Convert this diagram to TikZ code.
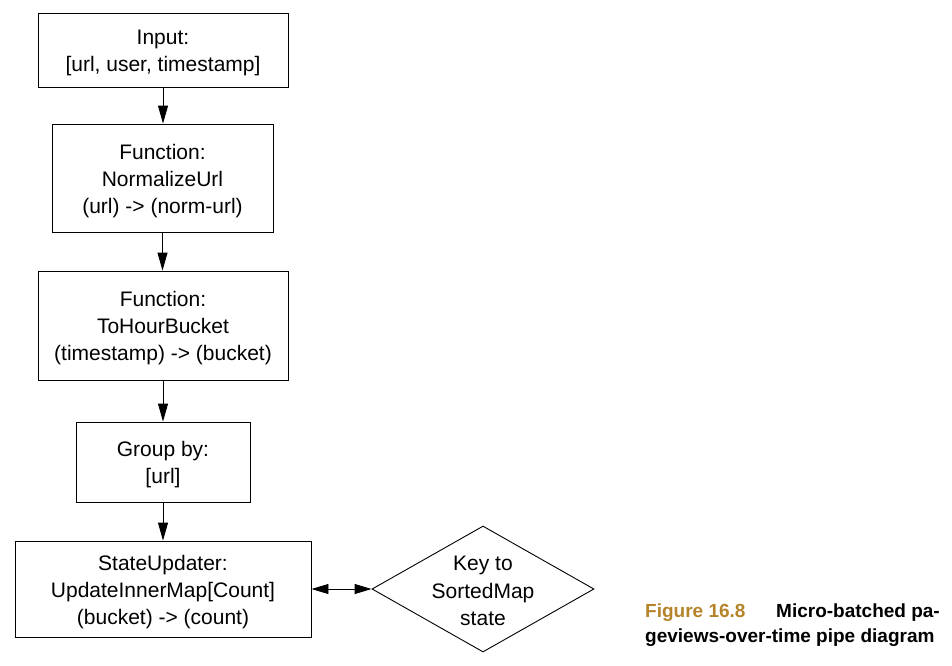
\documentclass[tikz,border=0pt]{standalone}
\usepackage{fontspec}
\setmainfont{Liberation Sans}
\usetikzlibrary{shapes.geometric,arrows.meta}
\definecolor{capgold}{HTML}{B5832A}
\newcommand\tstrut{\rule{0pt}{21pt}}
\begin{document}
\begin{tikzpicture}[x=1pt,y=-1pt,
  procbox/.style={draw,line width=0.9pt,align=center,inner sep=0pt,
    font=\fontsize{21}{27}\selectfont},
  flow/.style={line width=0.9pt,-{Triangle[length=18pt,width=10pt]}},
  both/.style={line width=0.9pt,{Triangle[length=17pt,width=10pt]}-{Triangle[length=17pt,width=10pt]}},
  captxt/.style={font=\fontsize{19}{25}\selectfont\bfseries,inner sep=0pt,anchor=base west}]
\useasboundingbox (0,0) rectangle (952,665);
\node[procbox,minimum width=250,minimum height=74] (inp) at (163,50) {\tstrut Input:\\{}[url, user, timestamp]};
\node[procbox,minimum width=221,minimum height=108] (norm) at (162.5,178) {\tstrut Function:\\NormalizeUrl\\(url) -> (norm-url)};
\node[procbox,minimum width=250,minimum height=109] (hour) at (163,325.5) {\tstrut Function:\\ToHourBucket\\(timestamp) -> (bucket)};
\node[procbox,minimum width=174,minimum height=80] (grp) at (163,462) {\tstrut Group by:\\{}[url]};
\node[procbox,minimum width=296,minimum height=96] (upd) at (163,589) {\tstrut StateUpdater:\\UpdateInnerMap[Count]\\(bucket) -> (count)};
\node[diamond,draw,line width=0.9pt,inner sep=0pt,minimum width=222,minimum height=126,
  label={[align=center,font=\fontsize{21}{27.5}\selectfont,yshift=-2pt]center:Key to\\SortedMap\\state}] (key) at (483,589) {};
\draw[flow] (inp.south) -- (inp.south |- norm.north);
\draw[flow] (norm.south) -- (norm.south |- hour.north);
\draw[flow] (hour.south) -- (grp.north);
\draw[flow] (grp.south) -- (upd.north);
\draw[both] (upd.east) -- (key.west);
\node[captxt,text=capgold] (cap1) at (645,617) {Figure 16.8};
\node[captxt,anchor=base east] (cap2) at (940,617) {Micro-batched pa-};
\node[captxt] (cap3) at (645,642) {geviews-over-time pipe diagram};
\end{tikzpicture}
\end{document}
